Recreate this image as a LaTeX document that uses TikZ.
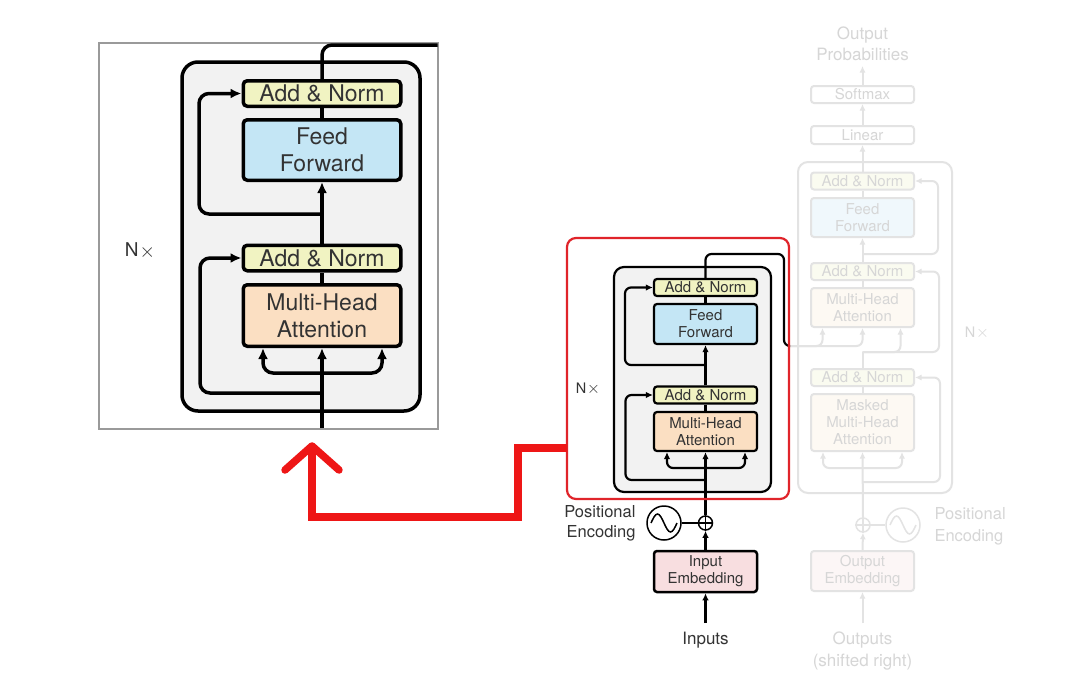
\documentclass[tikz,border=0pt]{standalone}
\usepackage{fontspec}
\setmainfont{TeX Gyre Heros}
\usetikzlibrary{arrows.meta,calc}
\newcommand{\timesglyph}{\kern0.06em\raisebox{-0.04em}{\scalebox{1.15}{$\mathord{\times}$}}}
\definecolor{txt}{HTML}{333333}
\definecolor{anfill}{HTML}{F1F3C2}
\definecolor{fffill}{HTML}{C4E6F5}
\definecolor{mhafill}{HTML}{FBDFC2}
\definecolor{embfill}{HTML}{F8DEE0}
\definecolor{blockfill}{HTML}{F2F2F2}
\definecolor{fadeline}{HTML}{E3E3E3}
\definecolor{fadetext}{HTML}{D6D6D6}
\definecolor{anfillD}{HTML}{FAFBF0}
\definecolor{fffillD}{HTML}{F0F8FC}
\definecolor{mhafillD}{HTML}{FDF9F3}
\definecolor{embfillD}{HTML}{FCF6F6}
\definecolor{redarrow}{HTML}{EE1616}
\definecolor{redbox}{HTML}{E0242A}
\definecolor{framegray}{HTML}{9A9A9A}
\tikzset{
  blkL/.style={draw=black,line width=3.5pt,rounded corners=4pt,minimum width=157.5pt,inner sep=0pt,align=center,text=txt,font=\fontsize{23}{27}\selectfont},
  anBoxL/.style={blkL,fill=anfill,minimum height=25.5pt},
  ffBoxL/.style={blkL,fill=fffill,minimum height=60.5pt},
  mhaBoxL/.style={blkL,fill=mhafill,minimum height=61.5pt},
  wireL/.style={line width=3.5pt,rounded corners=10pt},
  tipL/.style={-{Latex[length=11pt,width=10pt]}},
  blkM/.style={draw=black,line width=2.2pt,rounded corners=3pt,minimum width=103pt,inner sep=0pt,align=center,text=txt,font=\fontsize{15}{17}\selectfont},
  anBoxM/.style={blkM,fill=anfill,minimum height=17pt},
  ffBoxM/.style={blkM,fill=fffill,minimum height=40pt},
  mhaBoxM/.style={blkM,fill=mhafill,minimum height=39pt},
  embBoxM/.style={blkM,fill=embfill,minimum height=41pt,line width=2.5pt},
  wireM/.style={line width=2.2pt,rounded corners=6pt},
  tipM/.style={-{Latex[length=7pt,width=6.5pt]}},
  blkD/.style={draw=fadeline,line width=2pt,rounded corners=3pt,minimum width=103pt,inner sep=0pt,align=center,text=fadetext,font=\fontsize{15}{17}\selectfont},
  anBoxD/.style={blkD,fill=anfillD,minimum height=17pt},
  ffBoxD/.style={blkD,fill=fffillD,minimum height=39pt},
  mhaBoxD/.style={blkD,fill=mhafillD,minimum height=39pt},
  embBoxD/.style={blkD,fill=embfillD,minimum height=40pt},
  plainBoxD/.style={blkD,fill=white,minimum height=17pt},
  wireD/.style={draw=fadeline,line width=2pt,rounded corners=6pt},
  tipD/.style={-{Latex[length=6.5pt,width=6pt]}},
  redwire/.style={draw=redarrow,line width=7.5pt},
}
\begin{document}
\begin{tikzpicture}[x=1pt,y=-1pt]
\useasboundingbox (0,0) rectangle (1080,686);
\fill[white] (0,0) rectangle (1080,686);

% ================= faded decoder =================
\draw[fadeline,line width=2pt,rounded corners=10pt] (798,162) rectangle (952,493);
\node[plainBoxD,fill=white] (softD) at (862.5,94.5) {Softmax};
\node[plainBoxD,minimum height=18pt] (linD) at (862.5,135) {Linear};
\node[anBoxD] (an1D) at (862.5,181) {Add \& Norm};
\node[ffBoxD] (ffD) at (862.5,217.5) {Feed\\Forward};
\node[anBoxD] (an2D) at (862.5,271.5) {Add \& Norm};
\node[mhaBoxD] (mhaD) at (862.5,307.5) {Multi-Head\\Attention};
\node[anBoxD] (an3D) at (862.5,377.5) {Add \& Norm};
\node[mhaBoxD,minimum height=57pt] (mmhaD) at (862.5,422.5) {Masked\\Multi-Head\\Attention};
\node[embBoxD] (embD) at (862.5,571) {Output\\Embedding};
\node[draw=fadeline,circle,line width=1.5pt,minimum size=14pt,inner sep=0pt] (plusD) at (863,525) {};
\draw[fadeline,line width=1.5pt] (plusD.north) -- (plusD.south) (plusD.west) -- (plusD.east);
\node[draw=fadeline,circle,line width=1.5pt,minimum size=34pt,inner sep=0pt] (sinD) at (903,525) {};
\draw[fadeline,line width=1.5pt] ($(sinD)+(-13,0)$) sin ++(6.5,-9) cos ++(6.5,9) sin ++(6.5,9) cos ++(6.5,-9);
\node[text=fadetext,align=center,font=\fontsize{17}{21}\selectfont] (probD) at (862.5,43.5) {Output\\Probabilities};
\node[text=fadetext,align=left,anchor=west,font=\fontsize{16.5}{22}\selectfont] (posD) at (931,526) {Positional\\Encoding};
\node[text=fadetext,align=center,font=\fontsize{17}{22}\selectfont] (outsD) at (862.5,651) {Outputs\\(shifted right)};
\node[text=fadetext,font=\fontsize{14.5}{17}\selectfont] (nxD) at (977,333) {N\timesglyph};
\coordinate (probIn) at (862.5,66);
\coordinate (outIn) at (862.5,623);
\coordinate (r1D) at (862.5,254);
\coordinate (sD) at (862.5,352);
\coordinate (brD) at (862.5,468);
\coordinate (r3D) at (862.5,482);
\coordinate (encOut) at (789,346);
\draw[wireD,tipD] (softD.north) -- (probIn);
\draw[wireD,tipD] (linD.north) -- (softD.south);
\draw[wireD,tipD] (an1D.north) -- (linD.south);
\draw[wireD] (ffD.north) -- (an1D.south);
\draw[wireD,tipD] (an2D.north) -- (ffD.south);
\draw[wireD] (mhaD.north) -- (an2D.south);
\draw[wireD,tipD] (r1D) -- ++(75.5,0) |- (an1D.east);
\draw[wireD,tipD] (encOut) -| ($(mhaD.south)+(-40,0)$);
\draw[wireD,tipD] (encOut) -| (mhaD.south);
\draw[wireD] (an3D.north) -- (sD);
\draw[wireD,tipD] (sD) -| ($(mhaD.south)+(38,0)$);
\draw[wireD,tipD] (sD) -- ++(76.5,0) |- (an2D.east);
\draw[wireD] (mmhaD.north) -- (an3D.south);
\draw[wireD,tipD] (brD) -| ($(mmhaD.south)+(-39.5,0)$);
\draw[wireD,tipD] (brD) -| ($(mmhaD.south)+(39.5,0)$);
\draw[wireD,tipD] (r3D) -- ++(77.5,0) |- (an3D.east);
\draw[wireD,tipD] (plusD.north) -- (mmhaD.south);
\draw[wireD,tipD] (embD.north) -- (plusD.south);
\draw[wireD,tipD] (outIn) -- (embD.south);
\draw[wireD] (plusD) -- (sinD);

% ================= middle encoder =================
\draw[line width=2.2pt,fill=blockfill,rounded corners=10pt] (614,267) rectangle (771,492);
\node[anBoxM] (an1M) at (705.5,287.5) {Add \& Norm};
\node[ffBoxM] (ffM) at (705.5,324) {Feed\\Forward};
\node[anBoxM] (an2M) at (705.5,395) {Add \& Norm};
\node[mhaBoxM] (mhaM) at (705.5,431.5) {Multi-Head\\Attention};
\node[embBoxM] (embM) at (705.5,571.5) {Input\\Embedding};
\node[draw,circle,line width=1.5pt,minimum size=14pt,inner sep=0pt] (plusM) at (705.5,523) {};
\draw[line width=1.5pt] (plusM.north) -- (plusM.south) (plusM.west) -- (plusM.east);
\node[draw,circle,line width=1.5pt,minimum size=34pt,inner sep=0pt] (sinM) at (664,523) {};
\draw[line width=1.5pt] ($(sinM)+(-13,0)$) sin ++(6.5,-9) cos ++(6.5,9) sin ++(6.5,9) cos ++(6.5,-9);
\node[text=txt,align=right,anchor=east,font=\fontsize{16.5}{20}\selectfont] (posM) at (639,523) {Positional\\Encoding};
\node[text=txt,font=\fontsize{17}{20}\selectfont] (inputsM) at (705.5,640) {Inputs};
\node[text=txt,font=\fontsize{14.5}{17}\selectfont] (nxM) at (588,389) {N\timesglyph};
\coordinate (inM) at (705.5,623);
\coordinate (brM) at (705.5,468);
\coordinate (r2M) at (705.5,480);
\coordinate (r1M) at (705.5,365);
\coordinate (cornerM) at (784,254);
\draw[wireM] (sinM) -- (plusM);
\draw[wireM,tipM] (embM.north) -- (plusM.south);
\draw[wireM,tipM] (inM) -- (embM.south);
\draw[wireM,tipM] (plusM.north) -- (mhaM.south);
\draw[wireM,tipM] (brM) -| ($(mhaM.south)+(-38.5,0)$);
\draw[wireM,tipM] (brM) -| ($(mhaM.south)+(39.5,0)$);
\draw[wireM,tipM] (r2M) -- ++(-80,0) |- (an2M.west);
\draw[wireM] (mhaM.north) -- (an2M.south);
\draw[wireM,tipM] (an2M.north) -- (ffM.south);
\draw[wireM,tipM] (r1M) -- ++(-80.5,0) |- (an1M.west);
\draw[wireM] (ffM.north) -- (an1M.south);
\draw[wireM] (an1M.north) |- (cornerM) |- (encOut);
\draw[redbox,line width=2.2pt,rounded corners=9pt] (567,238) rectangle (789,499);

% ================= red arrow =================
\coordinate (redStart) at (567,448);
\coordinate (redTip) at (312,446);
\draw[redwire] (redStart) -- (518,448) -- (518,517) -- (312,517) -- (redTip);
\draw[redwire,line cap=round,line join=round] (285,470) -- (redTip) -- (339,470);

% ================= left enlarged panel =================
\draw[framegray,line width=1.2pt,fill=white] (99,43) rectangle (438,429);
\draw[line width=3.5pt,fill=blockfill,rounded corners=16pt] (182,62) rectangle (420,411);
\node[anBoxL] (an1L) at (322,93.5) {Add \& Norm};
\node[ffBoxL] (ffL) at (322,150) {Feed\\Forward};
\node[anBoxL] (an2L) at (322,258) {Add \& Norm};
\node[mhaBoxL] (mhaL) at (322,315.5) {Multi-Head\\Attention};
\node[text=txt,font=\fontsize{19}{22}\selectfont] (nxL) at (140,251) {N\timesglyph};
\coordinate (inL) at (322,428);
\coordinate (brL) at (322,373);
\coordinate (r2L) at (322,393);
\coordinate (r1L) at (322,214);
\coordinate (outL) at (437.5,45);
\draw[wireL,tipL] (inL) -- (mhaL.south);
\draw[wireL,tipL] (brL) -| ($(mhaL.south)+(-59,0)$);
\draw[wireL,tipL] (brL) -| ($(mhaL.south)+(60,0)$);
\draw[wireL,tipL] (r2L) -- ++(-122,0) |- (an2L.west);
\draw[wireL] (mhaL.north) -- (an2L.south);
\draw[wireL,tipL] (an2L.north) -- (ffL.south);
\draw[wireL,tipL] (r1L) -- ++(-123,0) |- (an1L.west);
\draw[wireL] (ffL.north) -- (an1L.south);
\draw[wireL] (an1L.north) |- (outL);
\end{tikzpicture}
\end{document}
